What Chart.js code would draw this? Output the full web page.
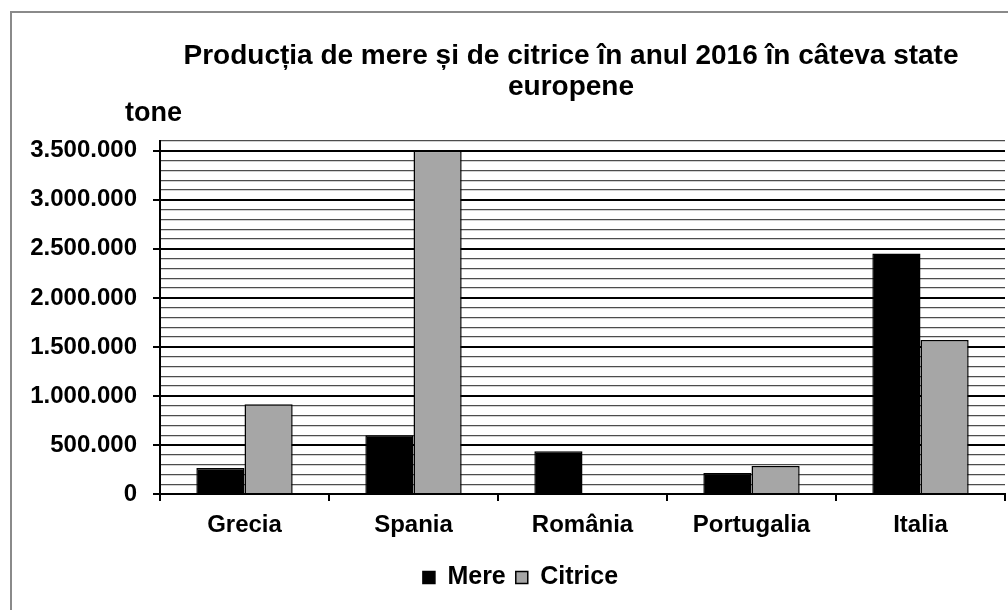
<!DOCTYPE html>
<html>
<head>
<meta charset="utf-8">
<script src="https://cdn.jsdelivr.net/npm/chart.js@4/dist/chart.umd.min.js"></script>
<style>
  html, body { margin: 0; padding: 0; background: #fff; }
  #wrap { width: 1008px; height: 610px; position: relative; }
</style>
</head>
<body>
<div id="wrap"><canvas id="c" width="1008" height="610"></canvas></div>
<script>
const categories = ["Grecia", "Spania", "România", "Portugalia", "Italia"];
const mere = [264000, 600000, 437000, 214000, 2452000];
const citrice = [915000, 3500000, 0, 285000, 1570000];
const seriesNames = ["Mere", "Citrice"];
const titleLines = ["Producția de mere și de citrice în anul 2016 în câteva state", "europene"];
const yUnit = "tone";
const yMax = 3600000;
const yMinorStep = 100000;
const yMajorStep = 500000;

const FONT = "'Liberation Sans', Arial, sans-serif";

function fmt(v) {
  return String(Math.round(v)).replace(/\B(?=(\d{3})+(?!\d))/g, ".");
}
function isMajor(v) { return Math.round(v) % yMajorStep === 0; }

const decor = {
  id: 'decor',
  afterLayout(chart) {
    const lg = chart.legend;
    if (lg) { lg.left += 12; lg.right += 12; }
  },
  beforeDraw(chart) {
    const ctx = chart.ctx;
    ctx.save();
    ctx.fillStyle = '#fff';
    ctx.fillRect(0, 0, chart.width, chart.height);
    ctx.strokeStyle = '#8a8a8a';
    ctx.lineWidth = 2;
    ctx.beginPath();
    ctx.moveTo(11, chart.height);
    ctx.lineTo(11, 12);
    ctx.lineTo(chart.width, 12);
    ctx.stroke();
    ctx.restore();
  },
  afterDraw(chart) {
    const ctx = chart.ctx;
    ctx.save();
    ctx.fillStyle = '#000';
    ctx.textAlign = 'center';
    ctx.textBaseline = 'middle';
    ctx.font = "bold 28px " + FONT;
    ctx.fillText(titleLines[0], 571, 56);
    ctx.fillText(titleLines[1], 571, 87);
    ctx.textAlign = 'left';
    ctx.font = "bold 27px " + FONT;
    ctx.fillText(yUnit, 125, 114);
    ctx.restore();
  }
};

new Chart(document.getElementById('c'), {
  type: 'bar',
  data: {
    labels: categories,
    datasets: [
      { label: seriesNames[0], data: mere, backgroundColor: '#000000', borderColor: '#000000', borderWidth: 1.5,
        categoryPercentage: 0.57, barPercentage: 1.0 },
      { label: seriesNames[1], data: citrice, backgroundColor: '#a6a6a6', borderColor: '#000000', borderWidth: 1.5,
        categoryPercentage: 0.57, barPercentage: 1.0 }
    ]
  },
  options: {
    responsive: false,
    animation: false,
    layout: { padding: { left: 12, right: 3, top: 141, bottom: 10 } },
    plugins: {
      title: { display: false },
      tooltip: { enabled: false },
      legend: {
        position: 'bottom',
        labels: {
          color: '#000',
          font: { family: FONT, size: 25, weight: 'bold' },
          boxWidth: 12, boxHeight: 12,
          padding: 10
        }
      }
    },
    scales: {
      x: {
        afterFit(scale) { scale.height = 61; },
        grid: { offset: true, drawOnChartArea: false, drawTicks: true, tickLength: 7, color: '#000', lineWidth: 2 },
        border: { color: '#000', width: 2 },
        ticks: { color: '#000', font: { family: FONT, size: 24, weight: 'bold' }, padding: 10 }
      },
      y: {
        min: 0, max: yMax,
        afterFit(scale) { scale.width = 148; },
        grid: {
          color: (c) => isMajor(c.tick.value) ? '#000' : '#4d4d4d',
          lineWidth: (c) => isMajor(c.tick.value) ? 2 : 1.3,
          tickColor: (c) => isMajor(c.tick.value) ? '#000' : 'rgba(0,0,0,0)',
          tickLength: 7
        },
        border: { color: '#000', width: 2 },
        ticks: {
          stepSize: yMinorStep, autoSkip: false,
          color: '#000', font: { family: FONT, size: 24, weight: 'bold' }, padding: 16,
          callback: (v) => isMajor(v) ? fmt(v) : ''
        }
      }
    }
  },
  plugins: [decor]
});
</script>
</body>
</html>
